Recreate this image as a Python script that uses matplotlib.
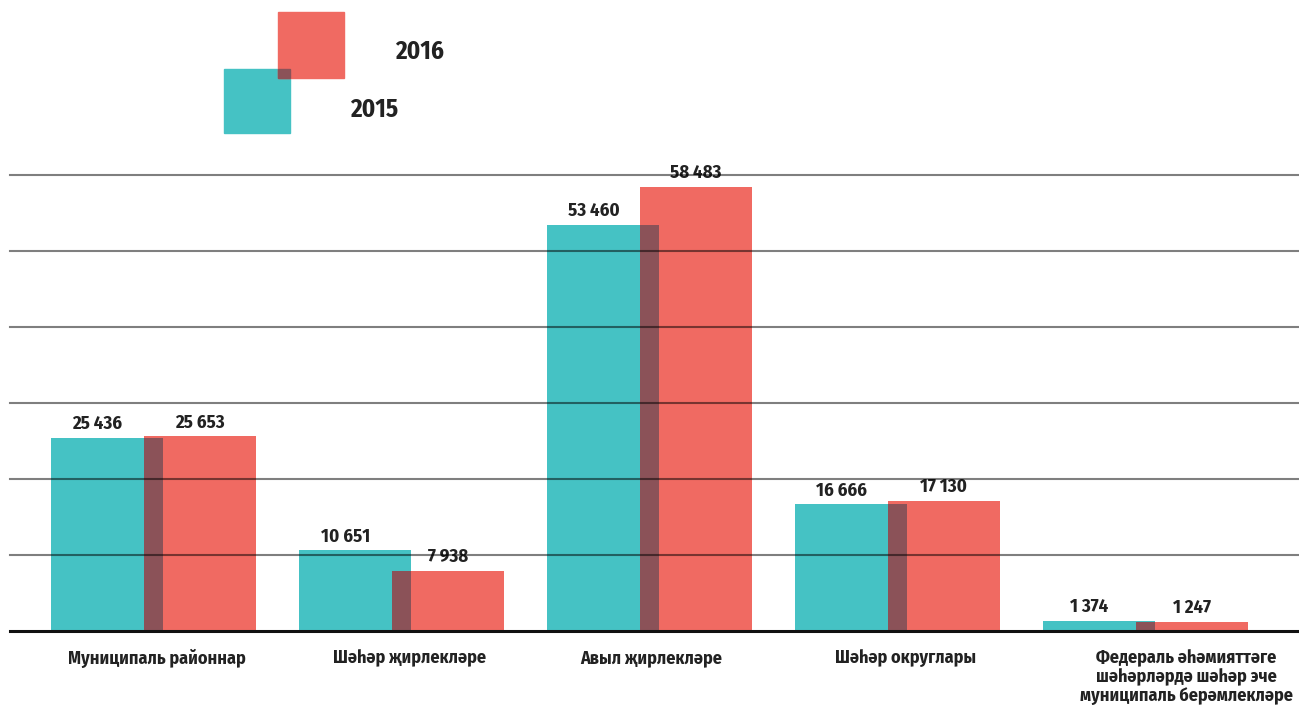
import matplotlib
matplotlib.use("Agg")
import matplotlib.pyplot as plt
import matplotlib.transforms as mtransforms
from matplotlib.patches import Rectangle
import numpy as np

plt.rcParams['font.family'] = ['Fira Sans Condensed', 'DejaVu Sans']
plt.rcParams['font.stretch'] = 'condensed'
plt.rcParams['font.weight'] = 'bold'

categories = [
    "Муниципаль районнар",
    "Шәһәр җирлекләре",
    "Авыл җирлекләре",
    "Шәһәр округлары",
    "Федераль әһәмияттәге\nшәһәрләрдә шәһәр эче\nмуниципаль берәмлекләре",
]
values_2015 = [25436, 10651, 53460, 16666, 1374]
values_2016 = [25653, 7938, 58483, 17130, 1247]
value_labels_2015 = ["25 436", "10 651", "53 460", "16 666", "1 374"]
value_labels_2016 = ["25 653", "7 938", "58 483", "17 130", "1 247"]
years = ["2015", "2016"]

TEAL = "#45c2c4"
RED = "#f06a62"
DARK = "#8b5258"

W, H = 1299, 712
fig = plt.figure(figsize=(W / 100, H / 100), dpi=100)
ax = fig.add_axes([10 / W, (H - 631) / H, (W - 10) / W, 456 / H])

x = np.arange(len(categories))
bw = 112 / 248          # bar width in group units
ov = 19 / 248           # overlap of the two bars
off = (bw - ov) / 2

ax.bar(x - off, values_2015, bw, color=TEAL, zorder=2)
ax.bar(x + off, values_2016, bw, color=RED, zorder=2)
ax.bar(x, np.minimum(values_2015, values_2016), ov, color=DARK, zorder=3)

for i in range(len(x)):
    ax.annotate(value_labels_2015[i], (x[i] - off - ov / 2, values_2015[i]),
                xytext=(0, 6), textcoords="offset points", ha="center",
                va="baseline", fontsize=13.5, color="#222222", clip_on=False)
    ax.annotate(value_labels_2016[i], (x[i] + off, values_2016[i]),
                xytext=(0, 6), textcoords="offset points", ha="center",
                va="baseline", fontsize=13.5, color="#222222", clip_on=False)

for g in range(10000, 60001, 10000):
    ax.axhline(g, color="black", alpha=0.5, lw=1.5, zorder=4, clip_on=False)
ax.axhline(0, color="#111111", lw=2.2, zorder=5, clip_on=False)

ax.set_xlim((10 - 153.5) / 248, (1299 - 153.5) / 248)
ax.set_ylim(0, 60000)
ax.set_yticks([])
ax.set_xticks(x)
ax.set_xticklabels(categories, fontsize=13, color="#222222", linespacing=1.08,
                   va="top")
ax.tick_params(axis="x", length=0, pad=13)
for s in ax.spines.values():
    s.set_visible(False)

# shift tick labels slightly, last one further right as in the original
shifts = [3, 8, 2, 8, 41]
for lbl, dx in zip(ax.get_xticklabels(), shifts):
    lbl.set_transform(lbl.get_transform() +
                      mtransforms.ScaledTranslation(dx / 100, 0, fig.dpi_scale_trans))

# legend: two overlapping squares
def fig_rect(x0, y0, x1, y1, color, z):
    fig.patches.append(Rectangle((x0 / W, 1 - y1 / H), (x1 - x0) / W, (y1 - y0) / H,
                                 transform=fig.transFigure, color=color, zorder=z))

fig_rect(224, 69, 290, 133, TEAL, 1)
fig_rect(278, 12, 344, 78, RED, 2)
fig_rect(278, 69, 290, 78, DARK, 3)
fig.text(395 / W, 1 - 52 / H, years[1], fontsize=18, color="#222222", va="center")
fig.text(350 / W, 1 - 110 / H, years[0], fontsize=18, color="#222222", va="center")

fig.savefig("out.png", dpi=100)
